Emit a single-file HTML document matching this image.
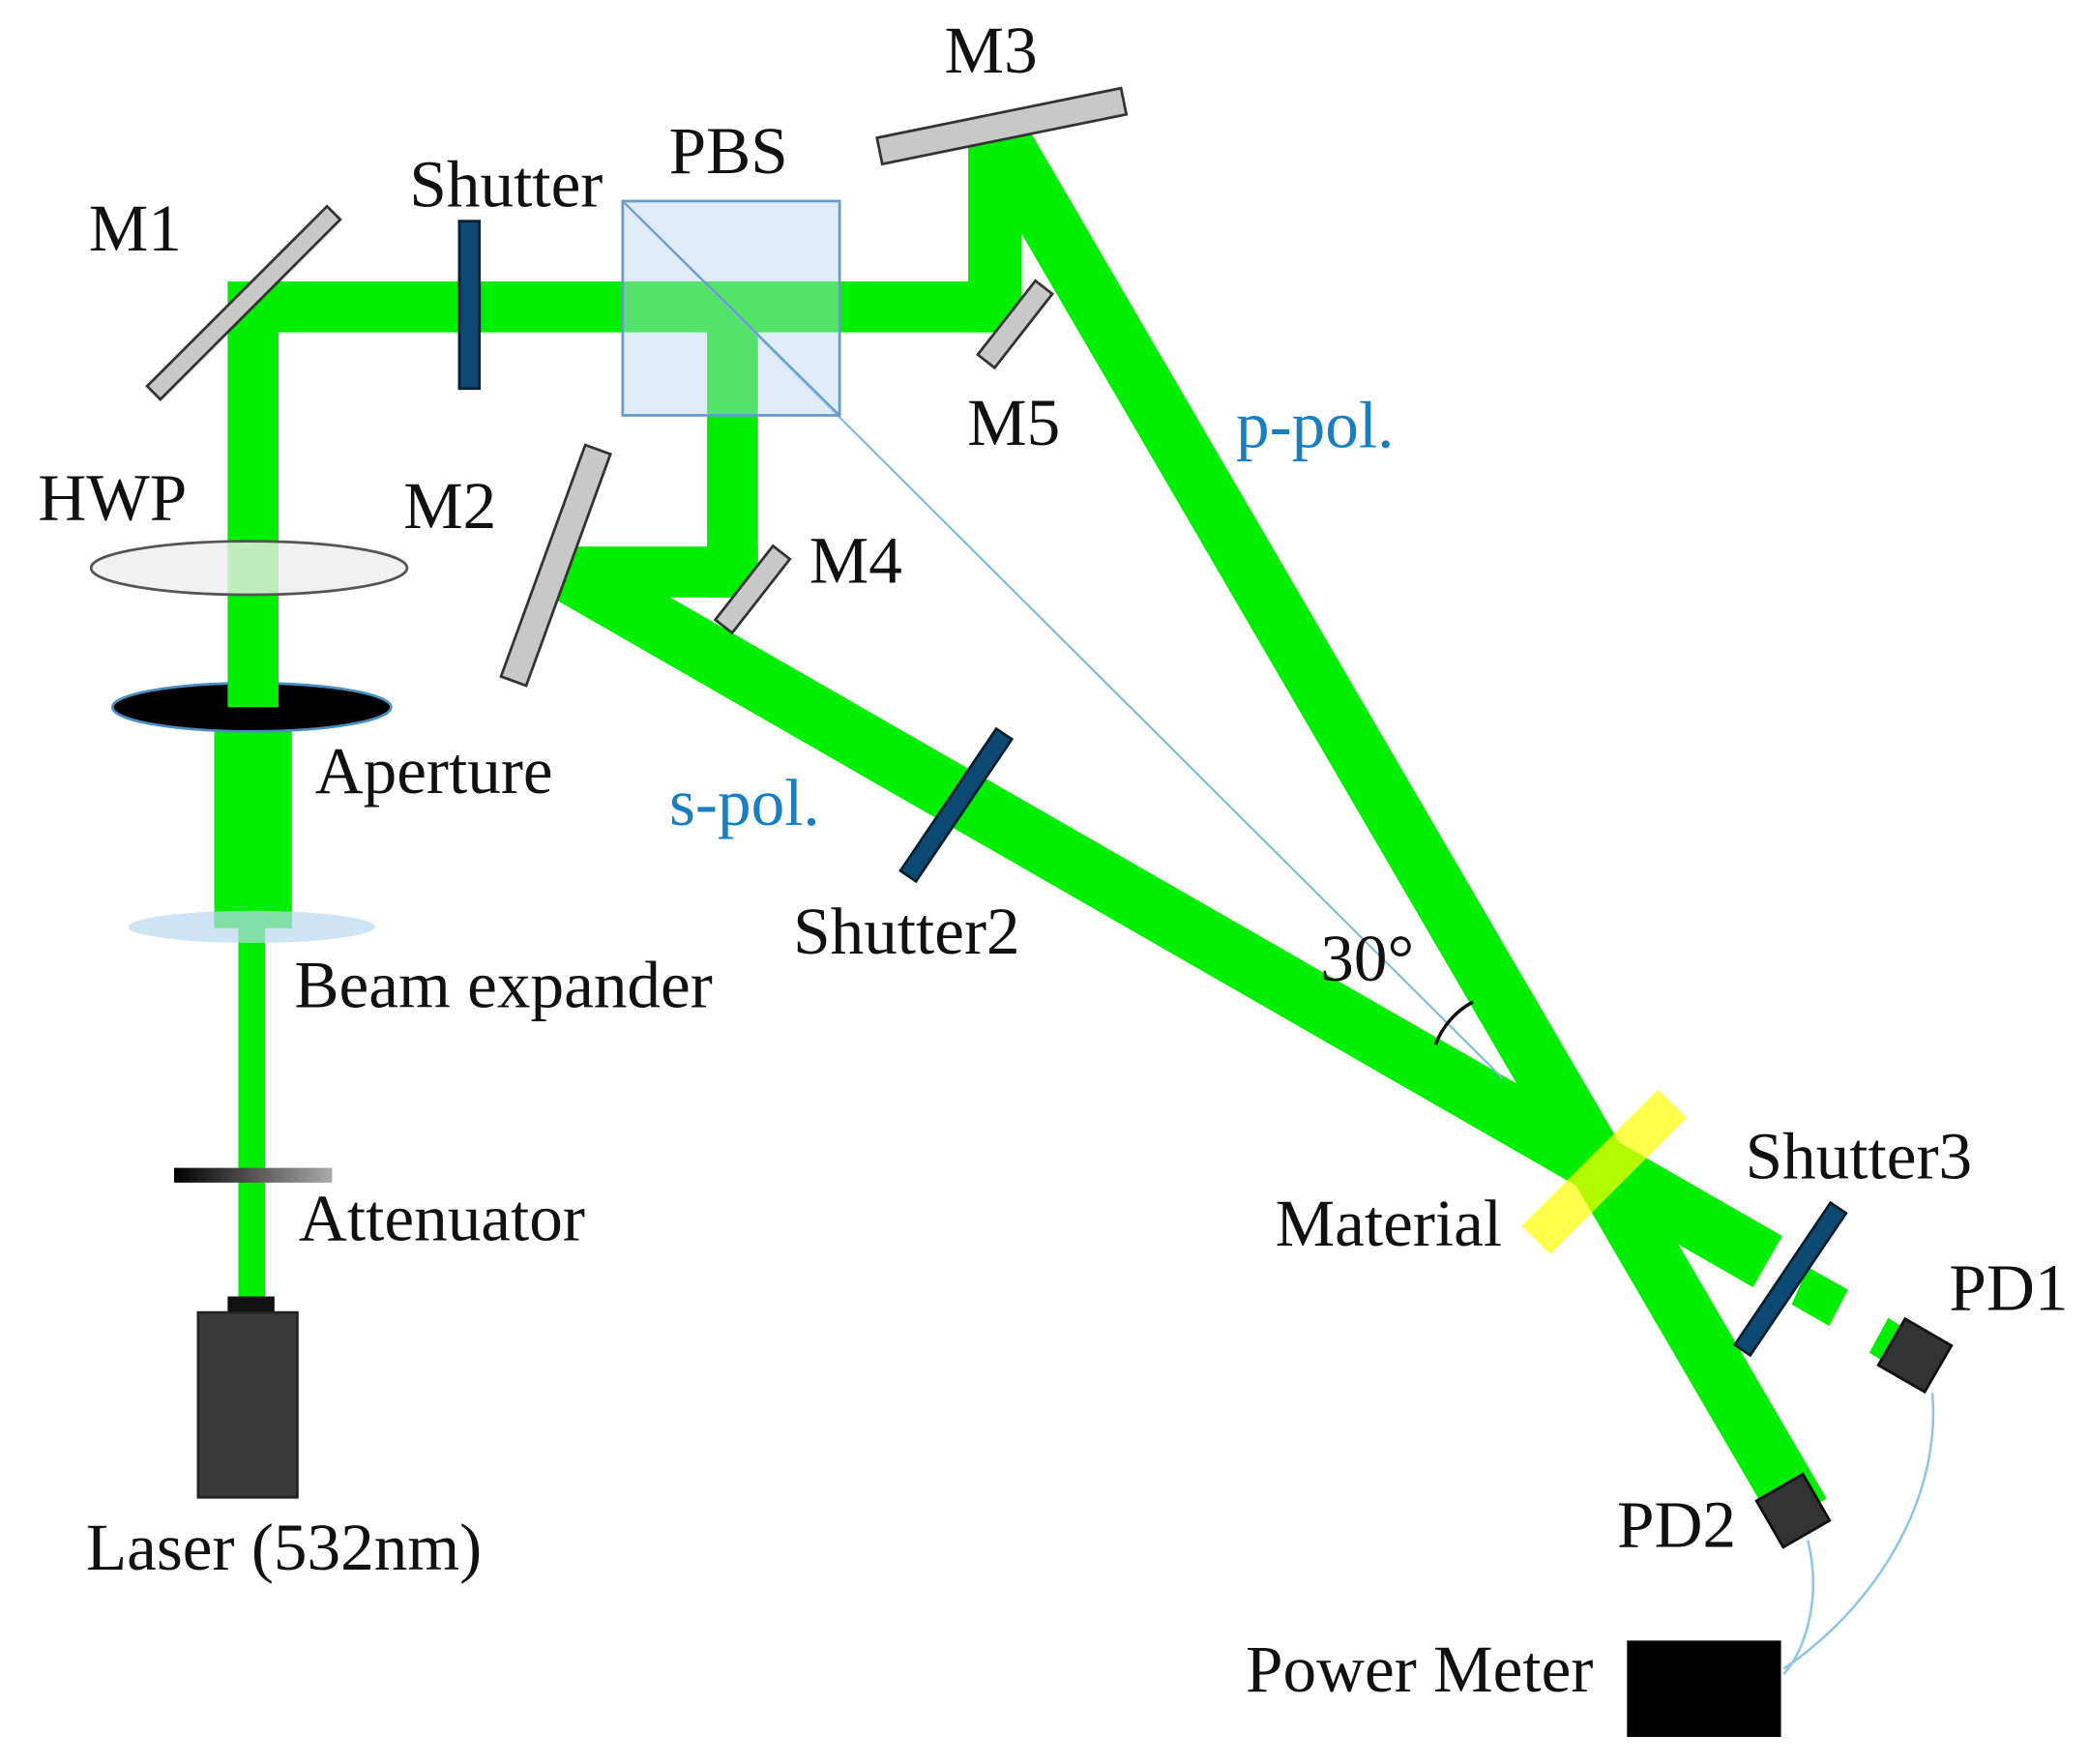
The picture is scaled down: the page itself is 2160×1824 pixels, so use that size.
<!DOCTYPE html>
<html><head><meta charset="utf-8"><style>
html,body{margin:0;padding:0;background:#fff;}
svg{display:block;}
text{font-family:"Liberation Serif",serif;font-size:50px;fill:#111;}
</style></head><body>
<svg width="2160" height="1824" viewBox="0 0 1560 1317" xmlns="http://www.w3.org/2000/svg">
<defs>
<linearGradient id="att" x1="0" x2="1"><stop offset="0" stop-color="#000"/><stop offset="1" stop-color="#aaa"/></linearGradient>
</defs>
<g fill="#00ee00" stroke="none">
<rect x="178" y="690" width="20" height="280"/>
<rect x="160" y="528" width="58" height="165"/>
<rect x="170" y="230" width="38" height="300"/>
<rect x="170" y="210" width="593" height="38"/>
<rect x="723" y="100" width="40" height="148"/>
<rect x="528" y="230" width="38" height="216"/>
<rect x="420" y="408" width="146" height="38"/>
</g>
<g stroke="#00ee00" stroke-width="44" fill="none">
<line x1="745" y1="100" x2="1345" y2="1130"/>
<line x1="425" y1="428" x2="1320" y2="942"/>
</g>
<polygon points="420,410 460,410 430,450" fill="#00ee00"/>
<polygon points="1350,946 1380,963 1366,990 1338,974" fill="#00ee00"/>
<polygon points="1410,984 1426,994 1412,1020 1396,1010" fill="#00ee00"/>
<line x1="465" y1="150" x2="1122" y2="805" stroke="#7ab8e0" stroke-width="1.5"/>
<path d="M1072,780 A60,60 0 0 1 1100,748" stroke="#111" stroke-width="2.5" fill="none"/>
<rect x="465" y="150" width="162" height="160" fill="#b8d4ee" fill-opacity="0.45" stroke="#6a9ac8" stroke-width="2"/>
<line x1="465" y1="150" x2="627" y2="310" stroke="#6a9ac8" stroke-width="1.5"/>
<ellipse cx="186" cy="424" rx="118" ry="20" fill="#eeeeee" fill-opacity="0.8" stroke="#555" stroke-width="2"/>
<ellipse cx="188" cy="528" rx="104" ry="18" fill="#000" stroke="#4a8fc0" stroke-width="2"/>
<rect x="170" y="508" width="38" height="20" fill="#00ee00"/>
<ellipse cx="188" cy="692" rx="92" ry="12" fill="#b8d8f0" fill-opacity="0.7"/>
<rect x="130" y="872" width="118" height="11" fill="url(#att)"/>
<rect x="170" y="968" width="35" height="14" fill="#111"/>
<rect x="148" y="980" width="74" height="138" fill="#3a3a3a" stroke="#222" stroke-width="2"/>
<g fill="#c8c8c8" stroke="#333" stroke-width="2">
<rect x="-95" y="-7" width="190" height="14" transform="translate(182,226) rotate(-45)"/>
<rect x="-93" y="-10" width="186" height="20" transform="translate(748,94) rotate(-11.5)"/>
<rect x="-35" y="-8" width="70" height="16" transform="translate(758,242) rotate(-52)"/>
<rect x="-92" y="-10" width="184" height="20" transform="translate(415,422) rotate(-70)"/>
<rect x="-35" y="-8" width="70" height="16" transform="translate(562,440) rotate(-52)"/>
</g>
<g fill="#0d4a73" stroke="#0a2030" stroke-width="2">
<rect x="343" y="165" width="15" height="125"/>
<rect x="-64" y="-7" width="128" height="14" transform="translate(714,601) rotate(-56)"/>
<rect x="-64" y="-7" width="128" height="14" transform="translate(1337,955) rotate(-56)"/>
</g>
<rect x="-72" y="-15" width="144" height="30" fill="#ffff00" fill-opacity="0.7" transform="translate(1198,875) rotate(-45)"/>
<g fill="#333" stroke="#111" stroke-width="2">
<rect x="-20" y="-20" width="40" height="40" transform="translate(1430,1012) rotate(30)"/>
<rect x="-20" y="-20" width="40" height="40" transform="translate(1339,1128) rotate(-30)"/>
</g>
<path d="M1443,1040 C1450,1120 1400,1200 1332,1246" stroke="#8ec4ea" stroke-width="1.8" fill="none"/>
<path d="M1350,1150 C1360,1190 1350,1230 1332,1250" stroke="#8ec4ea" stroke-width="1.8" fill="none"/>
<rect x="1215" y="1225" width="115" height="72" fill="#000"/>
<text x="740" y="54" text-anchor="middle">M3</text>
<text x="544" y="129" text-anchor="middle">PBS</text>
<text x="378" y="154" text-anchor="middle">Shutter</text>
<text x="101" y="187" text-anchor="middle">M1</text>
<text x="757" y="332" text-anchor="middle">M5</text>
<text x="982" y="334" text-anchor="middle" style="fill:#1a7fc1">p-pol.</text>
<text x="84" y="388" text-anchor="middle">HWP</text>
<text x="336" y="394" text-anchor="middle">M2</text>
<text x="639" y="435" text-anchor="middle">M4</text>
<text x="324" y="592" text-anchor="middle">Aperture</text>
<text x="556" y="616" text-anchor="middle" style="fill:#1a7fc1">s-pol.</text>
<text x="677" y="712" text-anchor="middle">Shutter2</text>
<text x="1021" y="732" text-anchor="middle">30°</text>
<text x="376" y="752" text-anchor="middle">Beam expander</text>
<text x="330" y="926" text-anchor="middle">Attenuator</text>
<text x="1037" y="930" text-anchor="middle">Material</text>
<text x="1388" y="880" text-anchor="middle">Shutter3</text>
<text x="1500" y="978" text-anchor="middle">PD1</text>
<text x="1252" y="1155" text-anchor="middle">PD2</text>
<text x="212" y="1172" text-anchor="middle">Laser (532nm)</text>
<text x="1060" y="1263" text-anchor="middle">Power Meter</text>
</svg>
</body></html>
